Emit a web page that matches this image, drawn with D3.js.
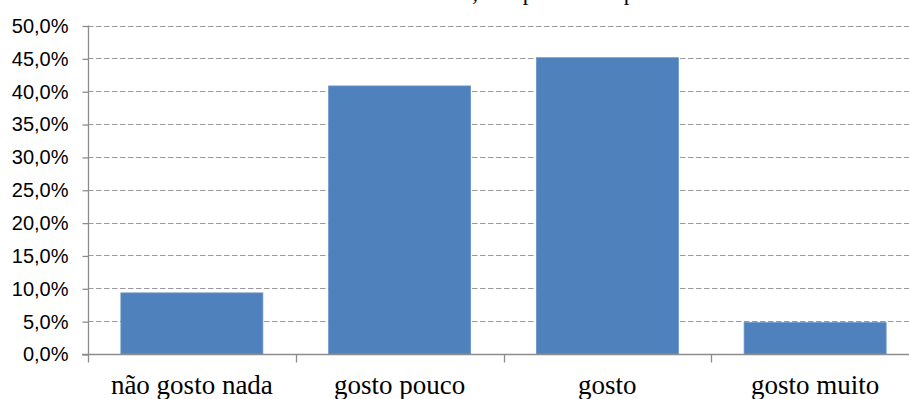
<!DOCTYPE html>
<html>
<head>
<meta charset="utf-8">
<script src="https://cdn.jsdelivr.net/npm/d3@7"></script>
<style>
  html, body { margin: 0; padding: 0; background: #ffffff; }
  svg { display: block; }
</style>
</head>
<body>
<svg id="chart" width="909" height="399"></svg>
<script>
// Answer categories and share of respondents (fraction of total)
const categories = ["não gosto nada", "gosto pouco", "gosto", "gosto muito"];
const shares = [0.093, 0.408, 0.451, 0.048];
const yTicks = [0, 0.05, 0.10, 0.15, 0.20, 0.25, 0.30, 0.35, 0.40, 0.45, 0.50];
const title = "Atitude face à Matemática, na opinião dos pais";

const svg = d3.select("#chart");
const plot = { left: 88, right: 919, top: 25.5, bottom: 354 };

const x = d3.scaleBand()
  .domain(categories)
  .range([plot.left, plot.right])
  .paddingInner(0.3165)
  .paddingOuter(0.3165 / 2);

const y = d3.scaleLinear()
  .domain([0, 0.5])
  .range([plot.bottom, plot.top]);

const fmt = v => d3.format(".1f")(v * 100).replace(".", ",") + "%";

// Title (sits above the visible area, only its descenders show)
svg.append("text")
  .attr("x", 229)
  .attr("y", -0.5)
  .attr("font-family", "'Liberation Serif', 'Times New Roman', serif")
  .attr("font-size", 23)
  .attr("fill", "#000")
  .text(title);

// Dashed horizontal gridlines
svg.append("g")
  .selectAll("line")
  .data(yTicks.filter(t => t > 0))
  .join("line")
  .attr("x1", plot.left)
  .attr("x2", plot.right)
  .attr("y1", d => Math.round(y(d)) + 0.5)
  .attr("y2", d => Math.round(y(d)) + 0.5)
  .attr("stroke", "#9a9a9a")
  .attr("stroke-width", 1.2)
  .attr("stroke-dasharray", "5.5,2.5");

// Bars
svg.append("g")
  .selectAll("rect")
  .data(categories.map((c, i) => ({ c, v: shares[i] })))
  .join("rect")
  .attr("x", d => x(d.c))
  .attr("width", x.bandwidth())
  .attr("y", d => y(d.v))
  .attr("height", d => y(0) - y(d.v))
  .attr("fill", "#4f81bd")
  .attr("stroke", "#6a95c9")
  .attr("stroke-width", 0.8);

// Y axis
const yAxis = d3.axisLeft(y)
  .tickValues(yTicks)
  .tickFormat(fmt)
  .tickSize(6)
  .tickPadding(14);

const gy = svg.append("g")
  .attr("transform", `translate(${plot.left + 0.5},0.5)`)
  .call(yAxis);
gy.select(".domain").remove();
gy.append("line")
  .attr("x1", 0).attr("x2", 0)
  .attr("y1", plot.top - 0.5).attr("y2", plot.bottom + 8)
  .attr("stroke", "#8c8c8c").attr("stroke-width", 1.3);
gy.selectAll(".tick line").attr("stroke", "#8c8c8c").attr("stroke-width", 1.3);
gy.selectAll(".tick text")
  .attr("font-family", "'Liberation Sans', Arial, sans-serif")
  .attr("font-size", 20)
  .attr("fill", "#000");

// X axis with tick marks on the category boundaries
const gx = svg.append("g")
  .attr("transform", `translate(0,${plot.bottom + 0.5})`);
gx.append("line")
  .attr("x1", plot.left - 6).attr("x2", plot.right)
  .attr("y1", 0).attr("y2", 0)
  .attr("stroke", "#8c8c8c").attr("stroke-width", 1.3);
gx.selectAll("line.bound")
  .data(categories.slice(1))
  .join("line")
  .attr("class", "bound")
  .attr("x1", d => Math.round(x(d) - x.step() * x.paddingInner() / 2) + 0.5)
  .attr("x2", d => Math.round(x(d) - x.step() * x.paddingInner() / 2) + 0.5)
  .attr("y1", 0).attr("y2", 8)
  .attr("stroke", "#8c8c8c").attr("stroke-width", 1.3);
gx.selectAll("text")
  .data(categories)
  .join("text")
  .attr("x", d => x(d) + x.bandwidth() / 2)
  .attr("y", 39)
  .attr("text-anchor", "middle")
  .attr("font-family", "'Liberation Serif', 'Times New Roman', serif")
  .attr("font-size", 27)
  .attr("fill", "#000")
  .text(d => d);
</script>
</body>
</html>
